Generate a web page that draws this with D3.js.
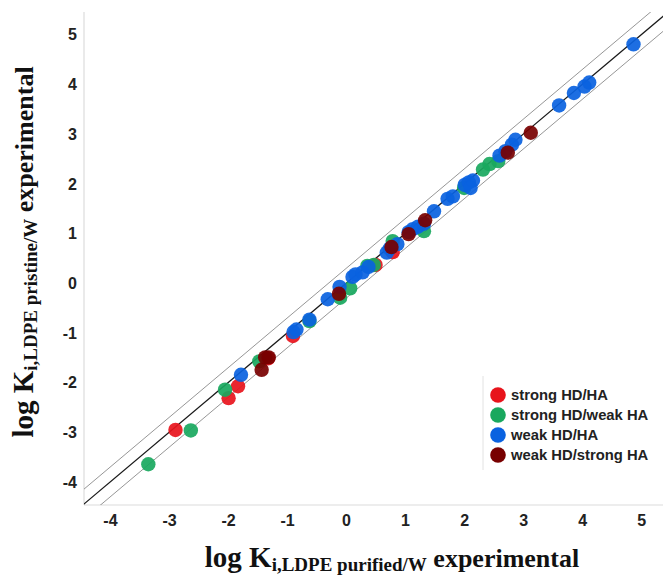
<!DOCTYPE html>
<html><head><meta charset="utf-8">
<script src="https://cdn.jsdelivr.net/npm/d3@7"></script>
<style>body{margin:0;background:#fff}svg{display:block}</style>
</head><body>
<svg id="c" width="663" height="577"></svg>
<script>
const seriesNames = ["strong HD/HA","strong HD/weak HA","weak HD/HA","weak HD/strong HA"];
const seriesColors = ["#e8141c","#19a85e","#0a62e0","#780000"];
const strongHDHA = [[-2.89,-2.95],[-1.99,-2.31],[-1.83,-2.07],[-1.32,-1.51],[-0.90,-1.06],[0.79,0.63],[0.50,0.37]];
const strongHDweakHA = [[-3.35,-3.64],[-2.63,-2.96],[-2.05,-2.14],[-1.47,-1.57],[-0.62,-0.76],[-0.10,-0.29],[0.07,-0.10],[0.36,0.35],[0.47,0.37],[0.79,0.85],[1.32,1.05],[2.00,1.92],[2.32,2.29],[2.43,2.40],[2.58,2.46]];
const weakHDHA = [[-1.78,-1.84],[-0.89,-0.98],[-0.84,-0.93],[-0.62,-0.73],[-0.31,-0.32],[-0.11,-0.07],[0.11,0.13],[0.16,0.18],[0.28,0.22],[0.38,0.33],[0.69,0.62],[0.74,0.70],[0.87,0.79],[1.06,1.03],[1.13,1.09],[1.22,1.14],[1.32,1.20],[1.49,1.45],[1.72,1.70],[1.81,1.75],[2.01,1.98],[2.08,2.03],[2.15,2.07],[2.11,1.92],[2.60,2.57],[2.70,2.66],[2.81,2.79],[2.87,2.89],[3.61,3.58],[3.86,3.83],[4.04,3.96],[4.12,4.04],[4.87,4.81]];
const weakHDstrongHA = [[-1.43,-1.74],[-1.37,-1.49],[-1.31,-1.49],[-0.12,-0.21],[0.77,0.73],[1.06,0.99],[1.34,1.27],[2.74,2.63],[3.13,3.03]];
const xTicks = [-4,-3,-2,-1,0,1,2,3,4,5];
const yTicks = [-4,-3,-2,-1,0,1,2,3,4,5];
const bandOffsets = [-0.3, 0, 0.3];

const svg = d3.select("#c");
const x = d3.scaleLinear().domain([-4.44,5.37]).range([84,663]);
const y = d3.scaleLinear().domain([-4.46,5.46]).range([505,12]);

svg.append("defs").append("clipPath").attr("id","plot")
  .append("rect").attr("x",84).attr("y",12).attr("width",579).attr("height",493);

// axes
const fmt = d => String(d);
const xa = svg.append("g").attr("transform","translate(0,505)")
  .call(d3.axisBottom(x).tickValues(xTicks).tickSize(0).tickPadding(10).tickFormat(fmt));
const ya = svg.append("g").attr("transform","translate(84,0)")
  .call(d3.axisLeft(y).tickValues(yTicks).tickSize(0).tickPadding(7).tickFormat(fmt));
[xa,ya].forEach(a=>{
  a.select(".domain").attr("stroke","#dcdcdc").attr("stroke-width",1.2);
  a.selectAll("text").attr("font-family","Liberation Sans, Arial, sans-serif")
    .attr("font-weight","bold").attr("font-size",16).attr("fill","#222");
});
xa.select(".domain").attr("d","M84,0H663");
ya.select(".domain").attr("d","M0,12V505");

// reference lines
const g = svg.append("g").attr("clip-path","url(#plot)");
bandOffsets.forEach(o=>{
  g.append("line")
    .attr("x1",x(-5)).attr("y1",y(-5+o)).attr("x2",x(6)).attr("y2",y(6+o))
    .attr("stroke", o===0 ? "#1a1a1a" : "#8a8a8a")
    .attr("stroke-width", o===0 ? 1.3 : 0.9);
});

// points
const all = [strongHDHA, strongHDweakHA, weakHDHA, weakHDstrongHA];
all.forEach((arr,i)=>{
  g.append("g").selectAll("circle").data(arr).join("circle")
    .attr("cx",d=>x(d[0])).attr("cy",d=>y(d[1])).attr("r",7.2)
    .attr("fill",seriesColors[i]).attr("fill-opacity",0.92);
});

// legend
const lg = svg.append("g");
lg.append("line").attr("x1",483).attr("x2",483).attr("y1",376).attr("y2",470).attr("stroke","#e2e2e2").attr("stroke-width",1);
seriesNames.forEach((n,i)=>{
  const yy = 395 + i*20;
  lg.append("circle").attr("cx",498).attr("cy",yy).attr("r",7.8).attr("fill",seriesColors[i]);
  lg.append("text").attr("x",511).attr("y",yy).attr("dy","0.36em")
    .attr("font-family","Liberation Sans, Arial, sans-serif").attr("font-weight","bold")
    .attr("font-size",14.8).attr("fill","#222").text(n);
});

// axis titles
function title(sel, sub){
  sel.attr("font-family","Liberation Serif, Times New Roman, serif").attr("font-weight","bold").attr("fill","#111")
    .attr("text-anchor","middle");
  sel.append("tspan").attr("font-size",29).text("log K");
  sel.append("tspan").attr("font-size",19).attr("dy",4).text(sub);
  sel.append("tspan").attr("font-size",26).attr("dy",-4).text(" experimental");
}
title(svg.append("text").attr("x",392).attr("y",567), "i,LDPE purified/W");
title(svg.append("text").attr("transform","translate(33,252) rotate(-90)"), "i,LDPE pristine/W");
</script>
</body></html>
